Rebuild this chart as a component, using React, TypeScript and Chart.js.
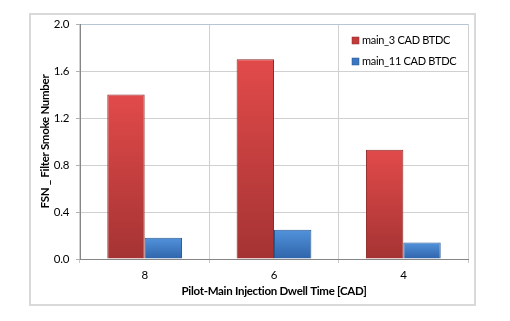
import React, { useEffect, useRef } from "react";
import { Chart, registerables } from "chart.js";

Chart.register(...registerables);

const categories = ["8", "6", "4"];
const seriesNames = ["main_3 CAD BTDC", "main_11 CAD BTDC"];
const main3Values = [1.4, 1.7, 0.93];
const main11Values = [0.18, 0.25, 0.14];
const yMin = 0;
const yMax = 2.0;
const yStep = 0.4;
const xTitle = "Pilot-Main Injection Dwell Time [CAD]";
const yTitle = "FSN _ Filter Smoke Number";

const FONT = "Lato, 'Open Sans', sans-serif";

const palettes = [
  { top: "#e24a4a", bottom: "#a53333", border: "#8f2a2a", legend: "#c33b3b" },
  { top: "#5293dc", bottom: "#2f64aa", border: "#28578f", legend: "#3a76c2" },
];

function barGradient(pal: any) {
  return (c: any) => {
    const chart = c.chart;
    const y = chart.scales && chart.scales.y;
    if (!y || !chart.chartArea || c.raw == null) return pal.top;
    const top = y.getPixelForValue(c.raw);
    const base = y.getPixelForValue(0);
    if (!isFinite(top) || !isFinite(base) || top === base) return pal.top;
    const g = chart.ctx.createLinearGradient(0, top, 0, base);
    g.addColorStop(0, pal.top);
    g.addColorStop(1, pal.bottom);
    return g;
  };
}

const framePlugin = {
  id: "frame",
  beforeDraw(chart: any) {
    const ctx = chart.ctx;
    ctx.save();
    ctx.fillStyle = "#ffffff";
    ctx.fillRect(0, 0, chart.width, chart.height);
    ctx.strokeStyle = "#d9d9d9";
    ctx.lineWidth = 2;
    ctx.strokeRect(30, 14, 445, 291);
    ctx.restore();
    try {
      (ctx as any).letterSpacing = "-0.3px";
    } catch (e) {}
  },
};

const legendPlugin = {
  id: "insideLegend",
  afterDraw(chart: any) {
    const ctx = chart.ctx;
    const area = chart.chartArea;
    const x0 = area.right - 116;
    const y0 = area.top + 16.5;
    ctx.save();
    ctx.font = `11px ${FONT}`;
    ctx.textBaseline = "middle";
    ctx.textAlign = "left";
    chart.data.datasets.forEach((ds: any, i: number) => {
      const y = y0 + i * 21;
      const pal = palettes[i];
      ctx.fillStyle = pal.legend;
      ctx.fillRect(x0, y - 3.5, 7, 7);
      ctx.strokeStyle = pal.border;
      ctx.lineWidth = 0.5;
      ctx.strokeRect(x0, y - 3.5, 7, 7);
      ctx.fillStyle = "#000000";
      ctx.fillText(ds.label, x0 + 10, y);
    });
    ctx.restore();
  },
};

export default function App() {
  const ref = useRef<HTMLCanvasElement>(null);

  useEffect(() => {
    if (!ref.current) return;
    const chart = new Chart(ref.current, {
      type: "bar",
      data: {
        labels: categories,
        datasets: [
          {
            label: seriesNames[0],
            data: main3Values,
            backgroundColor: barGradient(palettes[0]),
            borderColor: palettes[0].border,
            borderWidth: 1,
            categoryPercentage: 0.578,
            barPercentage: 1.0,
          },
          {
            label: seriesNames[1],
            data: main11Values,
            backgroundColor: barGradient(palettes[1]),
            borderColor: palettes[1].border,
            borderWidth: 1,
            categoryPercentage: 0.578,
            barPercentage: 1.0,
          },
        ],
      },
      options: {
        animation: false,
        responsive: false,
        maintainAspectRatio: false,
        layout: { padding: { left: 34, right: 42, top: 24, bottom: 19 } },
        plugins: {
          legend: { display: false },
          tooltip: { enabled: false },
        },
        scales: {
          x: {
            grid: {
              offset: true,
              color: (c: any) => (c.index === categories.length ? "#c5cfd9" : "#d0d0d0"),
              tickLength: 4,
              tickColor: "#c8c8c8",
            },
            border: { color: "#868686", width: 1 },
            ticks: {
              color: "#000000",
              padding: 5,
              font: { family: FONT, size: 11.5 },
            },
            title: {
              display: true,
              text: xTitle,
              color: "#000000",
              font: { family: FONT, size: 11.5, weight: "bold" },
              padding: { top: 4, bottom: 4 },
            },
            afterFit: (s: any) => {
              s.height = 43;
            },
          },
          y: {
            min: yMin,
            max: yMax,
            ticks: {
              stepSize: yStep,
              color: "#000000",
              padding: 7,
              font: { family: FONT, size: 11.5 },
              callback: (v: any) => Number(v).toFixed(1),
            },
            grid: {
              color: (c: any) => (c.tick && c.tick.value === yMax ? "#b7c6d6" : "#d0d0d0"),
              tickLength: 4,
              tickColor: "#b0b0b0",
            },
            border: { color: "#868686", width: 1 },
            title: {
              display: true,
              text: yTitle,
              color: "#000000",
              font: { family: FONT, size: 11.5, weight: "bold" },
              padding: { top: 4, bottom: 4 },
            },
            afterFit: (s: any) => {
              s.width = 46;
            },
          },
        },
      },
      plugins: [framePlugin, legendPlugin],
    });
    return () => chart.destroy();
  }, []);

  return (
    <div style={{ position: "absolute", left: 0, top: 0, width: 510, height: 321, background: "#fff" }}>
      <canvas ref={ref} width={510} height={321} style={{ display: "block", width: 510, height: 321 }} />
    </div>
  );
}
